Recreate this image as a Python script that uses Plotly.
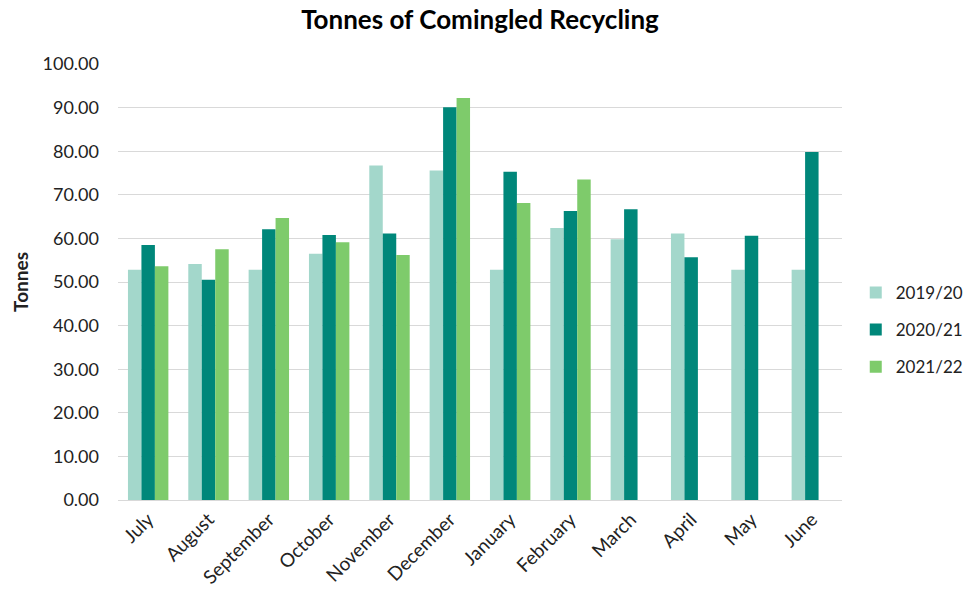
import plotly.graph_objects as go

months = ["July", "August", "September", "October", "November", "December",
          "January", "February", "March", "April", "May", "June"]
y2019 = [52.8, 54.1, 52.8, 56.5, 76.7, 75.6, 52.8, 62.4, 59.8, 61.1, 52.8, 52.8]
y2020 = [58.5, 50.5, 62.1, 60.8, 61.1, 90.1, 75.3, 66.3, 66.7, 55.7, 60.6, 79.8]
y2021 = [53.6, 57.5, 64.7, 59.1, 56.2, 92.2, 68.1, 73.5, None, None, None, None]
ticks = [0, 10, 20, 30, 40, 50, 60, 70, 80, 90, 100]

fig = go.Figure()
fig.add_trace(go.Bar(x=months, y=y2019, name="2019/20", marker_color="#A3D7CB",
                     legendgroup="a", marker_line_width=0))
fig.add_trace(go.Bar(x=months, y=y2020, name="2020/21", marker_color="#00877A",
                     legendgroup="b", marker_line_width=0))
fig.add_trace(go.Bar(x=months, y=y2021, name="2021/22", marker_color="#7ECB6B",
                     legendgroup="c", marker_line_width=0))

# page body has an 8px margin, so the figure is sized to fit the window
fig.update_layout(
    width=963, height=586,
    paper_bgcolor="white", plot_bgcolor="white",
    font=dict(family="Lato, Open Sans, sans-serif", size=18, color="#222222"),
    title=dict(text="Tonnes of Comingled Recycling", x=0.5, xref="paper",
               xanchor="center", y=0.979, yanchor="middle",
               font=dict(size=26, color="black", weight="bold")),
    margin=dict(l=110, r=129, t=56, b=94, autoexpand=False),
    barmode="group", bargap=0.33, bargroupgap=0,
    legend=dict(x=1.019, y=0.39, yanchor="middle", xanchor="left",
                font=dict(size=17), tracegroupgap=12, itemwidth=30),
    showlegend=True,
)
fig.update_xaxes(tickangle=-45, showgrid=False, showline=True, linecolor="#d9d9d9",
                 linewidth=1, ticks="", tickfont=dict(size=19))
fig.update_yaxes(range=[0, 100], tickvals=ticks, tickformat=".2f",
                 showgrid=True, gridcolor="#d9d9d9", gridwidth=1, zeroline=False,
                 ticklabelstandoff=18,
                 title=dict(text="Tonnes", font=dict(size=19, weight="bold"), standoff=8),
                 tickfont=dict(size=18))

fig.write_html("out.html")
